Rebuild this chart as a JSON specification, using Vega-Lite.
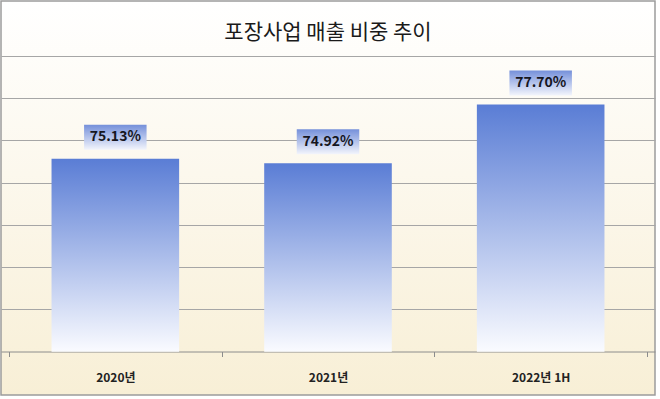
{
  "$schema": "https://vega.github.io/schema/vega-lite/v6.json",
  "width": 654,
  "height": 394,
  "autosize": {"type": "none"},
  "padding": {"left": 1, "top": 1, "right": 5, "bottom": 4},
  "background": "#ffffff",
  "title": {
    "text": "포장사업 매출 비중 추이",
    "orient": "top",
    "anchor": "middle",
    "offset": -53,
    "baseline": "middle",
    "font": "Noto Sans CJK KR",
    "fontSize": 21,
    "fontWeight": "normal",
    "color": "#1a1a1a"
  },
  "view": {
    "fill": {
      "gradient": "linear", "x1": 0, "y1": 0, "x2": 0, "y2": 1,
      "stops": [{"offset": 0, "color": "#ffffff"}, {"offset": 1, "color": "#f8efd6"}]
    },
    "stroke": "#9c9c9c",
    "strokeWidth": 1.5
  },
  "data": {
    "values": [
      {"year": "2020년", "share": 75.13, "label": "75.13%"},
      {"year": "2021년", "share": 74.92, "label": "74.92%"},
      {"year": "2022년 1H", "share": 77.70, "label": "77.70%"}
    ]
  },
  "encoding": {
    "x": {
      "field": "year",
      "type": "nominal",
      "sort": null,
      "scale": {"paddingInner": 0, "paddingOuter": 0.0376},
      "axis": {
        "title": null,
        "offset": -43.5,
        "labelAngle": 0,
        "tickBand": "extent",
        "domainColor": "#8c8c8c",
        "tickColor": "#8c8c8c",
        "tickSize": 5,
        "labelFont": "Noto Sans CJK KR",
        "labelFontSize": 12,
        "labelFontWeight": "bold",
        "labelColor": "#222222",
        "labelPadding": 21,
        "labelBaseline": "middle",
        "grid": false
      }
    },
    "y": {
      "field": "share",
      "type": "quantitative",
      "scale": {"domain": [63.95, 82.6], "nice": false, "zero": false},
      "axis": {
        "title": null,
        "labels": false,
        "ticks": false,
        "domain": false,
        "grid": true,
        "values": [68, 70, 72, 74, 76, 78, 80],
        "gridColor": "#a6a6a6",
        "gridWidth": 1.2
      }
    }
  },
  "layer": [
    {
      "mark": {
        "type": "bar",
        "width": {"band": 0.6},
        "color": {
          "gradient": "linear", "x1": 0, "y1": 0, "x2": 0, "y2": 1,
          "stops": [{"offset": 0, "color": "#5a7dd5"}, {"offset": 1, "color": "#fafbff"}]
        }
      },
      "encoding": {"y2": {"datum": 66}}
    },
    {
      "mark": {
        "type": "point",
        "shape": "M-1.25,-0.5H1.25V0.5H-1.25Z",
        "size": 2500,
        "filled": true,
        "opacity": 1,
        "strokeWidth": 0,
        "yOffset": -21.5,
        "fill": {
          "gradient": "linear", "x1": 0, "y1": 0, "x2": 0, "y2": 1,
          "stops": [{"offset": 0, "color": "#7590da"}, {"offset": 1, "color": "#f3f5fc"}]
        }
      }
    },
    {
      "mark": {
        "type": "text",
        "font": "Noto Sans CJK KR",
        "fontSize": 14,
        "fontWeight": "bold",
        "color": "#16161e",
        "baseline": "middle",
        "yOffset": -21.5
      },
      "encoding": {"text": {"field": "label"}}
    }
  ]
}
